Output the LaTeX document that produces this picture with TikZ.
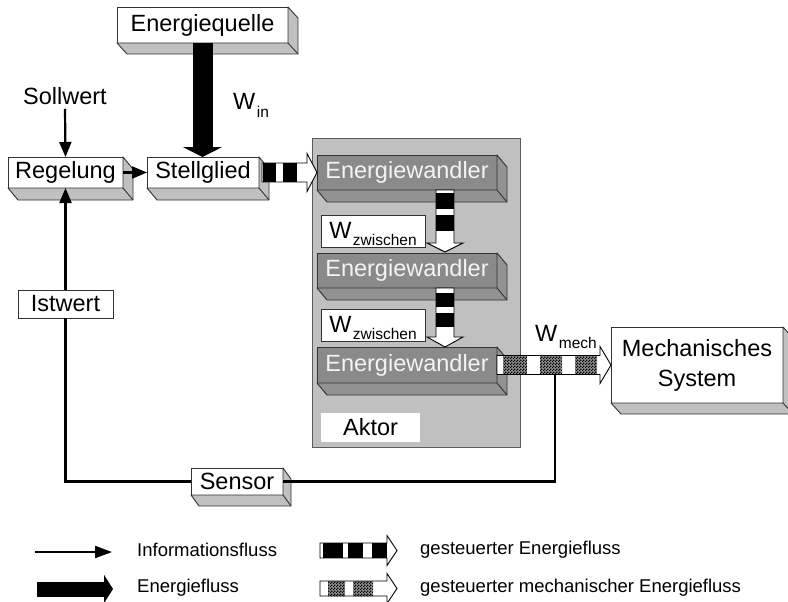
\documentclass[tikz,border=0pt]{standalone}
\usepackage{fontspec}
\setmainfont{Liberation Sans}
\usetikzlibrary{arrows.meta,calc,patterns}

% fine black/white checker used for mechanical energy flow
\pgfdeclarepatternformonly{finechecker}{\pgfpointorigin}{\pgfqpoint{3pt}{3pt}}{\pgfqpoint{3pt}{3pt}}{%
  \pgfpathrectangle{\pgfpointorigin}{\pgfqpoint{1.5pt}{1.5pt}}%
  \pgfpathrectangle{\pgfqpoint{1.5pt}{1.5pt}}{\pgfqpoint{1.5pt}{1.5pt}}%
  \pgfusepath{fill}}

\definecolor{edge}{HTML}{333333}
\definecolor{side}{HTML}{C0C0C0}
\definecolor{aktorbg}{HTML}{C0C0C0}
\definecolor{wandler}{HTML}{8A8A8A}
\definecolor{wandlerside}{HTML}{929292}
\definecolor{wandlertext}{HTML}{F4F4F4}

\newcommand\mainsize{\fontsize{23.5}{30}\selectfont}
\newcommand\subsize{\fontsize{15.5}{17}\selectfont}
\newcommand\legsize{\fontsize{18.5}{21}\selectfont}
\newcommand\Wsub[1]{W\hspace{1.5pt}\raisebox{-7.5pt}{\subsize #1}}

% extruded right and bottom faces of a block: node, dx, dy, fill
\newcommand\extrude[4]{%
  \filldraw[fill=#4, draw=edge, line width=0.9pt, line join=round]
    (#1.north east) -- ++(#2,#3) -- ([shift={(#2,#3)}]#1.south east)
    -- ([shift={(#2,#3)}]#1.south west) -- (#1.south west) -- (#1.south east) -- cycle;
  \draw[edge, line width=0.9pt] (#1.south east) -- ++(#2,#3);
}

% hollow flow arrow with filled segments:
% start, angle, shaft length, shaft half width, head length, head half width, segment fill, segments
\newcommand\flowarrow[8]{%
  \begin{scope}[shift={#1}, rotate=#2]
    \fill[white] (0,-#4) -- (#3,-#4) -- (#3,-#6) -- ({#3+#5},0) -- (#3,#6) -- (#3,#4) -- (0,#4) -- cycle;
    \foreach \a/\b in {#8} {\fill[#7] (\a,-#4) rectangle (\b,#4);}
    \draw[black, line width=0.9pt, line join=miter]
      (0,-#4) -- (#3,-#4) -- (#3,-#6) -- ({#3+#5},0) -- (#3,#6) -- (#3,#4) -- (0,#4) -- cycle;
  \end{scope}}

\tikzset{checkered/.style={fill=black!45, postaction={pattern=finechecker}}}

\begin{document}
\begin{tikzpicture}[x=1pt, y=-1pt,
  blockbox/.style={draw=edge, line width=0.9pt, fill=white, inner sep=0pt, outer sep=0pt,
                   anchor=north west, font=\mainsize},
  wandlerbox/.style={blockbox, fill=wandler, text=wandlertext},
  labelbox/.style={blockbox, text height=21.6pt, text depth=7.5pt},
  info/.style={line width=2.2pt, -{Triangle[length=15pt,width=12pt]}},
  signal/.style={line width=2.2pt},
  energy/.style={line width=20pt, -{Triangle[length=10pt,width=39pt]}},
  legtext/.style={anchor=west, font=\legsize, inner sep=0pt},
]
\useasboundingbox (0,0) rectangle (788,602);

% ---- actuator housing ----
\node[blockbox, fill=aktorbg, draw=edge!80, minimum width=208pt, minimum height=309pt] (akt) at (312,138) {};
\node[blockbox, draw=none, minimum width=99pt, minimum height=29pt] (aktl) at (321,413) {Aktor};

% ---- energy converters ----
\node[wandlerbox, minimum width=180pt, minimum height=35pt] (ew1) at (317,155) {Energiewandler};
\extrude{ew1}{10}{12}{wandlerside}
\node[wandlerbox, minimum width=180pt, minimum height=35pt] (ew2) at (317,253) {Energiewandler};
\extrude{ew2}{10}{12}{wandlerside}
\node[wandlerbox, minimum width=180pt, minimum height=36pt] (ew3) at (317,347) {Energiewandler};
\extrude{ew3}{10}{12}{wandlerside}

\node[labelbox, minimum width=104pt, minimum height=32pt] (wz1) at (321,215) {\Wsub{zwischen}};
\node[labelbox, minimum width=104pt, minimum height=32pt] (wz2) at (321,309) {\Wsub{zwischen}};

% ---- outer blocks ----
\node[blockbox, minimum width=171pt, minimum height=36pt] (eq) at (117,7) {Energiequelle};
\extrude{eq}{10}{11}{side}
\node[blockbox, minimum width=115pt, minimum height=31pt] (reg) at (8,157) {Regelung};
\extrude{reg}{10}{12}{side}
\node[blockbox, minimum width=112pt, minimum height=31pt] (stg) at (147,157) {Stellglied};
\extrude{stg}{10}{12}{side}
\node[blockbox, minimum width=172pt, minimum height=76pt, align=center] (mech) at (611,327)
  {Mechanisches\\System};
\extrude{mech}{10}{11}{side}
\node[blockbox, minimum width=95pt, minimum height=28pt] (ist) at (18,290) {Istwert};
\node[blockbox, minimum width=92pt, minimum height=27pt] (sen) at (191,468) {Sensor};
\extrude{sen}{8}{11}{side}

% ---- free labels ----
\node[font=\mainsize, inner sep=4pt] (sw) at (65,96) {Sollwert};
\node[font=\mainsize, anchor=base west, inner sep=0pt] (win) at (233,110) {\Wsub{in}};
\node[font=\mainsize, anchor=base west, inner sep=0pt] (wmech) at (535,341) {\Wsub{mech}};

% ---- information flow ----
\draw[info] (sw.south) -- (reg.north);
\draw[info] (reg.east) -- (stg.west);
\coordinate (tap) at ($(ew3.east)+(58,9.5)$);
\draw[signal] (sen.east) -| (tap);
\draw[signal] (sen.west) -| (ist.south);
\draw[info] (ist.north) -- (reg.south);

% ---- energy flow ----
\draw[energy] (eq.south) -- (eq.south |- stg.north);
\flowarrow{($(stg.east)+(3,0)$)}{0}{45}{9.5}{10}{19}{black}{1/14,21/35}
\flowarrow{($(ew1.south)+(38,0)$)}{-90}{53}{9}{9}{18}{black}{3/19,25/41}
\flowarrow{($(ew2.south)+(38,0)$)}{-90}{49}{9}{10}{18}{black}{5/19,25/39}
\flowarrow{(ew3.east)}{0}{103}{9.5}{11}{18.5}{checkered}{6/30,43/65,78/100}

% ---- legend ----
\draw[line width=2.2pt, -{Triangle[length=17pt,width=12pt]}] (35,552) -- (112,552);
\node[legtext] (lg1) at (137,550) {Informationsfluss};
\draw[line width=15pt, -{Triangle[length=9pt,width=28pt]}] (37,589) -- (113,589);
\node[legtext] (lg2) at (137,588) {Energiefluss};
\flowarrow{(320,550.5)}{0}{67}{7.5}{10}{15}{black}{3/23,28/43,52/67}
\node[legtext] (lg3) at (420,550) {gesteuerter Energiefluss};
\flowarrow{(320,588.5)}{0}{67}{7.5}{10}{15}{checkered}{8/25,33/53}
\node[legtext] (lg4) at (420,588) {gesteuerter mechanischer Energiefluss};
\end{tikzpicture}
\end{document}
